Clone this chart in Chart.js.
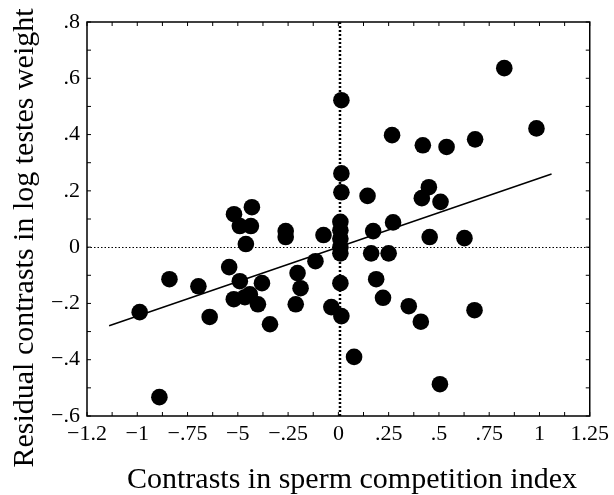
<!DOCTYPE html>
<html>
<head>
<meta charset="utf-8">
<script src="https://cdn.jsdelivr.net/npm/chart.js@4"></script>
<style>
  html, body { margin: 0; padding: 0; background: #fff; }
  #wrap { width: 614px; height: 495px; }
</style>
</head>
<body>
<div id="wrap"><canvas id="scatterChart"></canvas></div>
<script>
// contrasts
const spermIndex = [
  -0.988, -0.89, -0.84, -0.696, -0.64, -0.543, -0.519, -0.43, -0.49, -0.435,
  -0.46, -0.262, -0.262, -0.074, -0.49, -0.38, -0.52, -0.465, -0.44, -0.40,
  -0.34, -0.203, -0.188, -0.212, -0.114, -0.035, 0.015, 0.01, 0.01, 0.01,
  0.01, 0.01, 0.01, 0.015, 0.015, 0.015, 0.145, 0.173, 0.272, 0.163,
  0.25, 0.188, 0.222, 0.35, 0.41, 0.078, 0.505, 0.677, 0.45, 0.415,
  0.508, 0.454, 0.627, 0.267, 0.42, 0.538, 0.68, 0.985, 0.825
];
const testesWeight = [
  -0.231, -0.533, -0.114, -0.139, -0.248, -0.071, 0.117, 0.142, 0.075, 0.075,
  0.011, 0.057, 0.036, 0.043, -0.121, -0.128, -0.185, -0.178, -0.168, -0.203,
  -0.274, -0.092, -0.146, -0.203, -0.05, -0.213, -0.245, -0.128, -0.022, 0.0,
  0.03, 0.06, 0.09, 0.262, 0.195, 0.522, 0.182, 0.057, 0.088, -0.022,
  -0.022, -0.114, -0.18, -0.21, -0.265, -0.39, -0.487, -0.224, 0.213, 0.174,
  0.161, 0.036, 0.032, 0.398, 0.362, 0.356, 0.383, 0.422, 0.636
];

// regression through the origin
const fitX = [-1.14, 1.06];
const fitSlope = 0.245;

const xTickLabels = ["\u22121.2", "\u22121", "\u2212.75", "\u22125", "\u2212.25", "0", ".25", ".5", ".75", "1", "1.25"];
const yTickLabels = ["\u2212.6", "\u2212.4", "\u2212.2", "0", ".2", ".4", ".6", ".8"];

const xTitle = 'Contrasts in sperm competition index';
const yTitle = 'Residual contrasts in log testes weight';

const points = spermIndex.map((x, i) => ({ x: x, y: testesWeight[i] }));
const fitLine = fitX.map(x => ({ x: x, y: x * fitSlope }));

const serif = "'Liberation Serif', 'DejaVu Serif', serif";

// dotted zero lines, frame, inward ticks and axis titles
const framePlugin = {
  id: 'frame',
  beforeDatasetsDraw(chart) {
    const c = chart.ctx, a = chart.chartArea;
    const xs = chart.scales.x, ys = chart.scales.y;
    c.save();
    c.strokeStyle = '#000';
    // horizontal zero
    c.lineWidth = 1;
    c.setLineDash([1.5, 2]);
    const y0 = Math.round(ys.getPixelForValue(0)) + 0.5;
    c.beginPath(); c.moveTo(a.left, y0); c.lineTo(a.right, y0); c.stroke();
    // vertical zero, heavier
    c.lineWidth = 2.5;
    c.setLineDash([2, 2]);
    const x0 = xs.getPixelForValue(0.008);
    c.beginPath(); c.moveTo(x0, a.top); c.lineTo(x0, a.bottom); c.stroke();
    c.restore();
  },
  afterDraw(chart) {
    const c = chart.ctx, a = chart.chartArea;
    const xs = chart.scales.x, ys = chart.scales.y;
    c.save();
    c.strokeStyle = '#000';
    c.lineWidth = 1.5;
    c.strokeRect(a.left, a.top, a.right - a.left, a.bottom - a.top);
    c.lineWidth = 1;
    c.beginPath();
    xs.ticks.forEach(t => {
      const px = xs.getPixelForValue(t.value);
      c.moveTo(px, a.bottom); c.lineTo(px, a.bottom - 4);
      c.moveTo(px, a.top); c.lineTo(px, a.top + 4);
    });
    ys.ticks.forEach(t => {
      const py = ys.getPixelForValue(t.value);
      c.moveTo(a.left, py); c.lineTo(a.left + 4, py);
      c.moveTo(a.right, py); c.lineTo(a.right - 4, py);
    });
    c.stroke();

    // axis titles
    c.fillStyle = '#000';
    c.font = '30px ' + serif;
    c.textAlign = 'center';
    c.textBaseline = 'alphabetic';
    c.fillText(xTitle, 352, 488);
    c.translate(33, 238);
    c.rotate(-Math.PI / 2);
    c.fillText(yTitle, 0, 0);
    c.restore();
  }
};

new Chart(document.getElementById('scatterChart'), {
  type: 'scatter',
  data: {
    datasets: [
      {
        label: 'Species contrasts',
        data: points,
        backgroundColor: '#000',
        borderWidth: 0,
        pointRadius: 8.3,
        pointHoverRadius: 8.3
      },
      {
        type: 'line',
        label: 'Fit',
        data: fitLine,
        borderColor: '#000',
        borderWidth: 1.5,
        pointRadius: 0,
        fill: false
      }
    ]
  },
  options: {
    responsive: true,
    maintainAspectRatio: false,
    animation: false,
    layout: { padding: { top: 22, right: 13, left: 0, bottom: 0 } },
    plugins: {
      legend: { display: false },
      tooltip: { enabled: false }
    },
    scales: {
      x: {
        type: 'linear',
        min: -1.25,
        max: 1.25,
        afterFit(scale) { scale.height = 79; },
        grid: { display: false, drawTicks: false },
        border: { display: false },
        ticks: {
          stepSize: 0.125,
          autoSkip: false,
          maxRotation: 0,
          padding: 5,
          color: '#000',
          font: { family: serif, size: 22 },
          callback: (v, i) => (i % 2 === 0 ? xTickLabels[i / 2] : '')
        }
      },
      y: {
        type: 'linear',
        min: -0.6,
        max: 0.8,
        afterFit(scale) { scale.width = 87; },
        grid: { display: false, drawTicks: false },
        border: { display: false },
        ticks: {
          stepSize: 0.1,
          autoSkip: false,
          padding: 7,
          color: '#000',
          font: { family: serif, size: 22 },
          callback: (v, i) => (i % 2 === 0 ? yTickLabels[i / 2] : '')
        }
      }
    }
  },
  plugins: [framePlugin]
});
</script>
</body>
</html>
